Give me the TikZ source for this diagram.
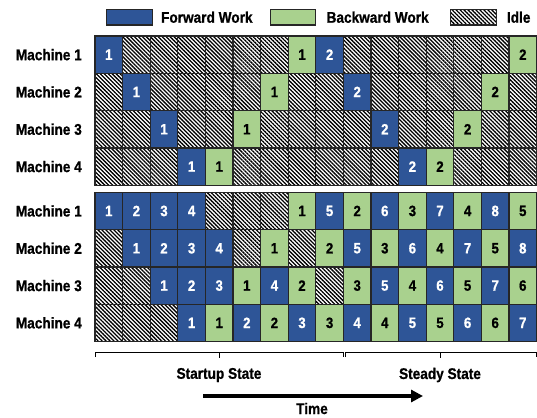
\documentclass[tikz,border=0pt]{standalone}
\usepackage{fontspec}
\setmainfont{Liberation Sans}[FakeStretch=0.88, BoldFeatures={FakeBold=0.8}]
\usetikzlibrary{positioning,patterns.meta,arrows.meta}

\definecolor{fwdblue}{HTML}{2E5597}
\definecolor{bwdgreen}{HTML}{A9D18E}

\tikzset{
  cell/.style={draw=black!85, line width=1.2pt, minimum width=27.6pt, minimum height=37.3pt,
    inner sep=0pt, outer sep=0pt, font=\fontsize{15}{17}\selectfont\bfseries},
  f-cell/.style={cell, fill=fwdblue, text=white},
  b-cell/.style={cell, fill=bwdgreen, text=black},
  i-cell/.style={cell, pattern={Lines[angle=-45, distance=2.8pt, line width=1.3pt]}},
  lab/.style={font=\fontsize{15.5}{18}\selectfont\bfseries, inner sep=0pt},
  key/.style={draw=black!85, line width=1.2pt, minimum width=45.6pt, minimum height=15.7pt, inner sep=0pt},
}

\begin{document}
\begin{tikzpicture}[x=1pt,y=-1pt]
  \useasboundingbox (0,0) rectangle (537,417);

  % legend
  \node[key, fill=fwdblue] (kf) at (129.5,17.2) {};
  \node[lab, right=8pt of kf] (kft) {Forward Work};
  \node[key, fill=bwdgreen] (kb) at (293,17.2) {};
  \node[lab, right=10pt of kb] (kbt) {Backward Work};
  \node[key, pattern={Lines[angle=-45, distance=2.8pt, line width=1.3pt]}] (ki) at (473.3,17.2) {};
  \node[lab, right=10pt of ki] (kit) {Idle};

  % naive schedule
  \foreach \row [count=\r] in {
    {f/1,i/{},i/{},i/{},i/{},i/{},i/{},b/1,f/2,i/{},i/{},i/{},i/{},i/{},i/{},b/2},
    {i/{},f/1,i/{},i/{},i/{},i/{},b/1,i/{},i/{},f/2,i/{},i/{},i/{},i/{},b/2,i/{}},
    {i/{},i/{},f/1,i/{},i/{},b/1,i/{},i/{},i/{},i/{},f/2,i/{},i/{},b/2,i/{},i/{}},
    {i/{},i/{},i/{},f/1,b/1,i/{},i/{},i/{},i/{},i/{},i/{},f/2,b/2,i/{},i/{},i/{}}} {
    \foreach \t/\n [count=\c] in \row
      \node[\t-cell] (t-\r-\c) at ({95+(\c-0.5)*27.6},{36+(\r-0.5)*37.3}) {\n};
    \node[lab, left=13pt of t-\r-1] (tl\r) {Machine \r};
  }

  % pipelined schedule
  \foreach \row [count=\r] in {
    {f/1,f/2,f/3,f/4,i/{},i/{},i/{},b/1,f/5,b/2,f/6,b/3,f/7,b/4,f/8,b/5},
    {i/{},f/1,f/2,f/3,f/4,i/{},b/1,i/{},b/2,f/5,b/3,f/6,b/4,f/7,b/5,f/8},
    {i/{},i/{},f/1,f/2,f/3,b/1,f/4,b/2,i/{},b/3,f/5,b/4,f/6,b/5,f/7,b/6},
    {i/{},i/{},i/{},f/1,b/1,f/2,b/2,f/3,b/3,f/4,b/4,f/5,b/5,f/6,b/6,f/7}} {
    \foreach \t/\n [count=\c] in \row
      \node[\t-cell] (b-\r-\c) at ({95+(\c-0.5)*27.6},{192.3+(\r-0.5)*37.3}) {\n};
    \node[lab, left=13pt of b-\r-1] (bl\r) {Machine \r};
  }

  % phases
  \coordinate (s0) at (95,352.5);
  \coordinate (s1) at (343.4,352.5);
  \coordinate (s2) at (345,352.5);
  \coordinate (s3) at (536,352.5);
  \draw[line width=1pt] ([yshift=-4.5pt]s0) -- (s0) -- (s1) -- ([yshift=-4.5pt]s1);
  \draw[line width=1pt] ([yshift=-4.5pt]s2) -- (s2) -- (s3) -- ([yshift=-4.5pt]s3);
  \draw[line width=1pt] (219,352.5) -- (219,358);
  \draw[line width=1pt] (440,352.5) -- (440,358);
  \node[lab] (startup) at (219,375) {Startup State};
  \node[lab] (steady) at (440,375) {Steady State};

  % time axis
  \coordinate (t0) at (203,396);
  \coordinate (t1) at (423,396);
  \draw[line width=4pt, -{Triangle[length=12pt,width=12pt]}] (t0) -- (t1);
  \node[lab] (time) at (312,408.5) {Time};
\end{tikzpicture}
\end{document}
